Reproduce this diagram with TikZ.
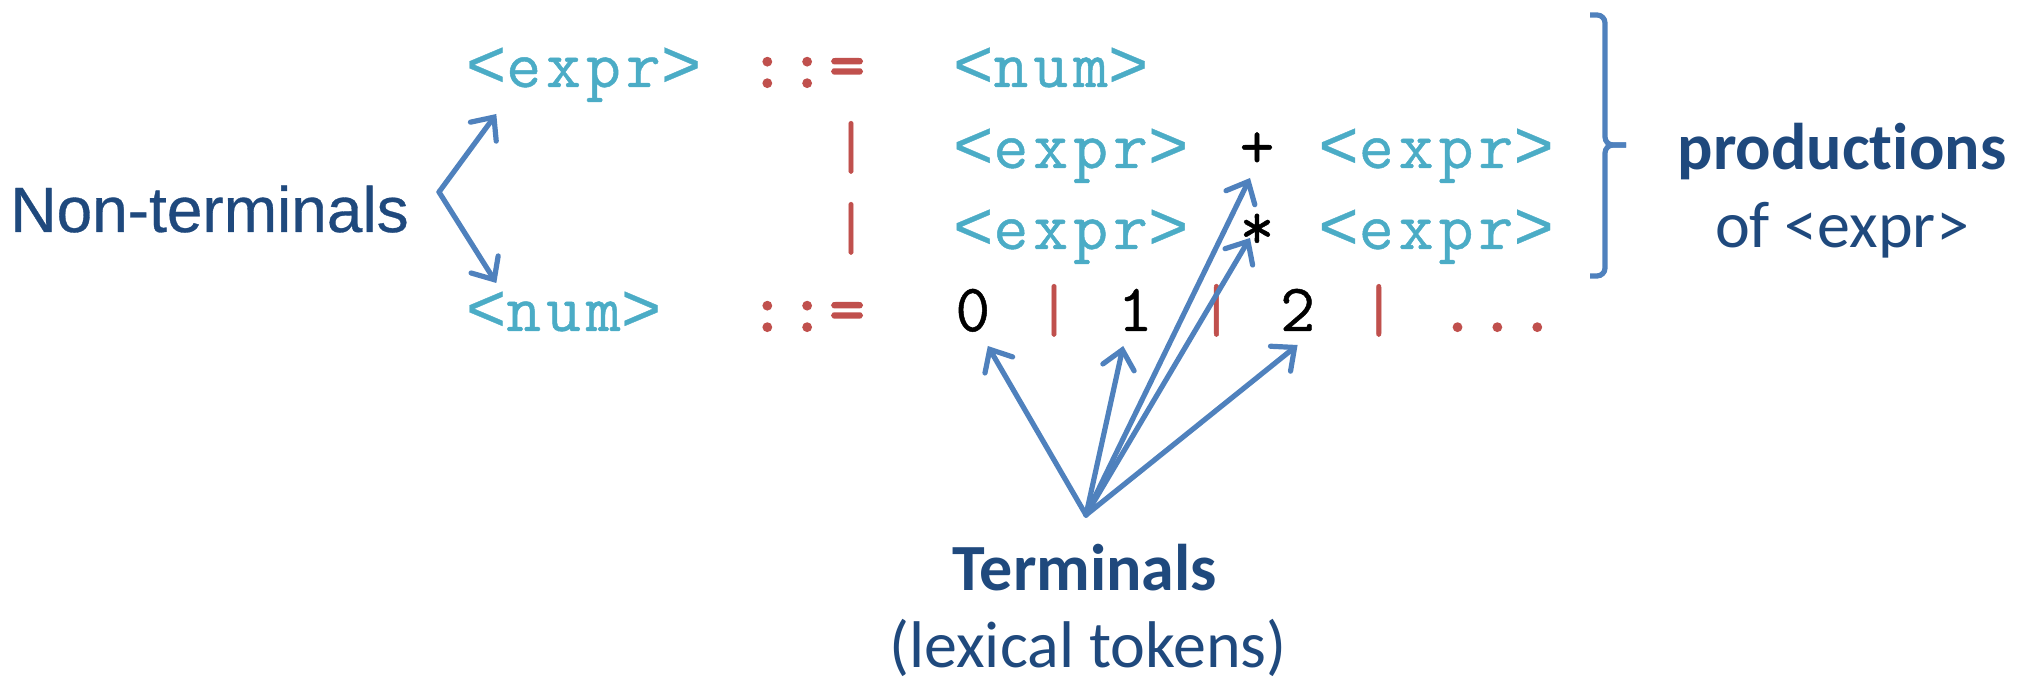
\documentclass[tikz,border=0pt]{standalone}
\usepackage{fontspec}
\setmainfont{Carlito}[Ligatures={TeX,NoCommon}]
\newfontfamily\codefont[LetterSpace=7.5,FakeBold=0.7]{Latin Modern Mono}
\newfontfamily\symfont[LetterSpace=7.5,FakeBold=3]{Latin Modern Mono}
\newfontfamily\anglefont[FakeBold=0.5]{Liberation Mono}
\newfontfamily\arialfont[FakeBold=0.5]{Liberation Sans}
\newcommand\ltsym{{\anglefont<}}
\newcommand\gtsym{{\anglefont>}}
\usetikzlibrary{arrows.meta,calc}
\definecolor{ntcol}{HTML}{4BACC6}
\definecolor{opcol}{HTML}{C0504D}
\definecolor{navy}{HTML}{1F497D}
\definecolor{arrowblue}{HTML}{4F81BD}
\begin{document}
\begin{tikzpicture}[x=0.5pt,y=-0.5pt,
  code/.style={inner sep=0pt, font=\fontsize{33.8}{40}\codefont},
  nonterm/.style={code, text=ntcol, anchor=base west},
  defsym/.style={code, text=opcol, anchor=base west, font=\fontsize{33.8}{40}\symfont},
  altbar/.style={code, text=opcol, anchor=base},
  term/.style={code, text=black, anchor=base},
  boldlabel/.style={inner sep=0pt, anchor=base, text=navy, font=\fontsize{33}{40}\selectfont\bfseries},
  plainlabel/.style={inner sep=0pt, anchor=base, text=navy, font=\fontsize{33}{40}\selectfont},
  ptr/.style={draw=arrowblue, line width=2.6pt, line cap=round,
    -{Straight Barb[length=9pt,width=16pt,line cap=round]}},
  brace/.style={draw=arrowblue, line width=2.6pt, rounded corners=4pt},
]
\useasboundingbox (0,0) rectangle (2028,683);
\def\cw{40.6}
% column c: left edge 465.3+c*\cw, centre 485.6+c*\cw

% <expr> ::= <num>
\node[nonterm] (lhsE)   at (465.3,87) {\ltsym expr\gtsym};
\node[defsym]  (defE)   at ({465.3+7*\cw},87) {::=};
\node[nonterm] (altNum) at ({465.3+12*\cw},87) {\ltsym num\gtsym};
% | <expr> + <expr>
\node[altbar]  (barB)   at ({485.6+9*\cw},168) {|};
\node[nonterm] (addL)   at ({465.3+12*\cw},168) {\ltsym expr\gtsym};
\node[term]    (plus)   at ({485.6+19*\cw},168) {+};
\node[nonterm] (addR)   at ({465.3+21*\cw},168) {\ltsym expr\gtsym};
% | <expr> * <expr>
\node[altbar]  (barC)   at ({485.6+9*\cw},249) {|};
\node[nonterm] (mulL)   at ({465.3+12*\cw},249) {\ltsym expr\gtsym};
\node[term]    (star)   at ({485.6+19*\cw},249) {*};
\node[nonterm] (mulR)   at ({465.3+21*\cw},249) {\ltsym expr\gtsym};
% <num> ::= 0 | 1 | 2 | ...
\node[nonterm] (lhsN)   at (465.3,331) {\ltsym num\gtsym};
\node[defsym]  (defN)   at ({465.3+7*\cw},331) {::=};
\node[term]    (d0)     at ({485.6+12*\cw},331) {0};
\node[altbar]  (bar1)   at ({485.6+14*\cw},331) {|};
\node[term]    (d1)     at ({485.6+16*\cw},331) {1};
\node[altbar]  (bar2)   at ({485.6+18*\cw},331) {|};
\node[term]    (d2)     at ({485.6+20*\cw},331) {2};
\node[altbar]  (bar3)   at ({485.6+22*\cw},331) {|};
\node[defsym]  (more)   at ({465.3+24*\cw},331) {...};

% labels
\node[inner sep=0pt, anchor=base west, text=navy, font=\fontsize{32}{38}\arialfont]
  (ntlabel) at (10,232) {Non-terminals};
\node[boldlabel]  (prodlabel) at (1842,170) {productions};
\node[plainlabel] (prodof)    at (1842,248) {of <expr>};
\node[boldlabel]  (termlabel) at (1085,590) {Terminals};
\node[plainlabel] (termnote)  at (1088,667) {(lexical tokens)};

% bracket grouping the productions of <expr>
\draw[brace] (1590,15) -- (1605,15) -- (1605,145) -- (1626,145);
\draw[brace] (1626,145) -- (1605,145) -- (1605,276) -- (1590,276);

% pointers to the non-terminals
\coordinate (ntfork) at (439,192);
\draw[ptr] (ntfork) -- ($(lhsE.base west)+(31,27)$);
\draw[ptr] (ntfork) -- ($(lhsN.base west)+(31,-48)$);

% pointers to the terminals
\coordinate (tfork) at (1086,515);
\draw[ptr] (tfork) -- ($(d0.base)+(15,15)$);
\draw[ptr] (tfork) -- ($(d1.base)+(-12,15)$);
\draw[ptr] (tfork) -- ($(plus.base)+(-7,10)$);
\draw[ptr] (tfork) -- ($(star.base)+(-7,-11)$);
\draw[ptr] (tfork) -- ($(d2.base)+(0,14)$);
\end{tikzpicture}
\end{document}
